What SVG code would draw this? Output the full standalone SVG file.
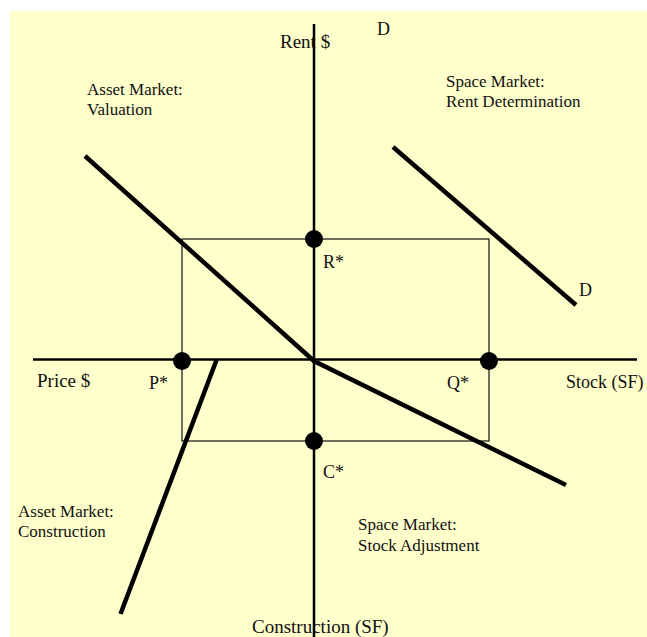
<svg xmlns="http://www.w3.org/2000/svg" width="647" height="637" viewBox="0 0 647 637">
<style>
.bg{fill:#FFFFCC}
.axis{stroke:#000;stroke-width:2.5;fill:none}
.box{stroke:#222;stroke-width:1.3;fill:none}
.curve{stroke:#000;stroke-width:4.5;fill:none;stroke-linecap:butt}
.dot{fill:#000}
text{font-family:"Liberation Serif","Times New Roman",serif;fill:#111}
.q{font-size:17px}
.a{font-size:19px}
.p{font-size:18px}
</style>
<rect x="0" y="0" width="647" height="637" fill="#fff"/>
<rect class="bg" x="10" y="11" width="637" height="626"/>
<g id="connectors">
<line id="axis-v" class="axis" x1="314" y1="24" x2="314" y2="637"/>
<line id="axis-h" class="axis" x1="33" y1="359.5" x2="637" y2="359.5"/>
<rect id="equilibrium-box" class="box" x="182" y="239" width="307" height="202"/>
<polyline id="valuation" class="curve" points="85,156 314,361 566,485"/>
<line id="construction" class="curve" x1="216.5" y1="360" x2="120.5" y2="614"/>
<line id="demand" class="curve" x1="393" y1="147" x2="576" y2="305"/>
</g>
<g id="node-R"><circle class="dot" cx="314" cy="239" r="9"/><text class="p" x="323" y="268">R*</text></g>
<g id="node-P"><circle class="dot" cx="182" cy="361" r="9"/><text class="p" x="149" y="389">P*</text></g>
<g id="node-Q"><circle class="dot" cx="489" cy="361" r="9"/><text class="p" x="447" y="389">Q*</text></g>
<g id="node-C"><circle class="dot" cx="314" cy="441" r="9"/><text class="p" x="323" y="478">C*</text></g>
<g id="labels">
<text class="a" x="280" y="48">Rent $</text>
<text class="p" x="377" y="35">D</text>
<text class="p" x="579" y="296">D</text>
<text class="q" x="87" y="95">Asset Market:</text>
<text class="q" x="87" y="115">Valuation</text>
<text class="q" x="446" y="87">Space Market:</text>
<text class="q" x="446" y="107">Rent Determination</text>
<text class="a" x="37" y="387">Price $</text>
<text class="p" x="566" y="388">Stock (SF)</text>
<text class="q" x="18" y="517">Asset Market:</text>
<text class="q" x="18" y="537">Construction</text>
<text class="q" x="358" y="530">Space Market:</text>
<text class="q" x="358" y="551">Stock Adjustment</text>
<text class="a" x="252" y="633">Construction (SF)</text>
</g>
</svg>
